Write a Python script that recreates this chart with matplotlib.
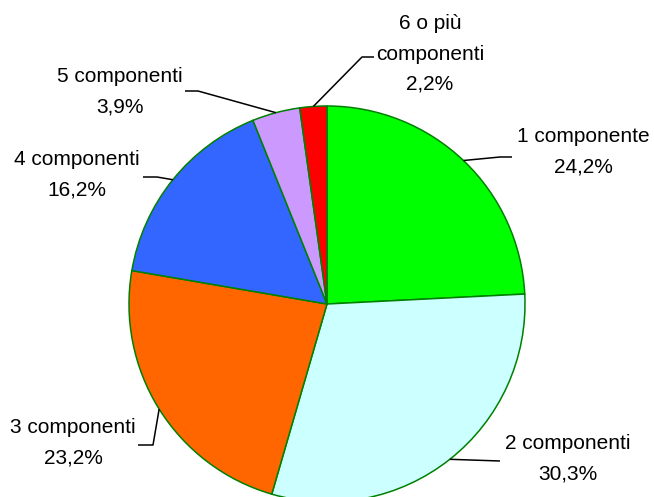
import matplotlib
matplotlib.use("Agg")
import matplotlib.pyplot as plt
import numpy as np

plt.rcParams["font.family"] = ["Liberation Sans", "DejaVu Sans"]

# data
labels = ["1 componente", "2 componenti", "3 componenti",
          "4 componenti", "5 componenti", "6 o più\ncomponenti"]
shares = [24.2, 30.3, 23.2, 16.2, 3.9, 2.2]
colors = ["#00FF00", "#CCFFFF", "#FF6600", "#3366FF", "#CC99FF", "#FF0000"]

# layout in pixel coords (from top-left of the 654x497 image)
W, H = 654, 497
CX, CY, R = 327, 304, 198
label_xy = [(583, 152), (568, 459), (73, 443), (77, 175), (120, 92), (430, 54)]
elbows = [[(500, 157), (512, 157)],
          [(500, 461)],
          [(153, 445), (138, 445)],
          [(157, 177), (143, 177)],
          [(198, 91), (185, 91)],
          [(362, 57), (374, 57)]]


def fy(y):
    return H - y


fig = plt.figure(figsize=(W / 100, H / 100), dpi=100)
ax = fig.add_axes([0, 0, 1, 1])

wedges, _ = ax.pie(shares, colors=colors, startangle=90, counterclock=False,
                   center=(CX, fy(CY)), radius=R, frame=True,
                   wedgeprops=dict(edgecolor="#008000", linewidth=1.1))

for w, lab, val, (tx, ty), pts in zip(wedges, labels, shares, label_xy, elbows):
    mid = np.deg2rad((w.theta1 + w.theta2) / 2)
    ax0 = CX + R * np.cos(mid)
    ay0 = fy(CY) + R * np.sin(mid)
    xs = [ax0] + [p[0] for p in pts]
    ys = [ay0] + [fy(p[1]) for p in pts]
    ax.plot(xs, ys, color="black", lw=1.1, solid_capstyle="butt")
    txt = f"{lab}\n{val:.1f}%".replace(".", ",")
    ax.text(tx, fy(ty), txt, ha="center", va="center", multialignment="center",
            fontsize=15, linespacing=1.75, color="black")

ax.set_xlim(0, W)
ax.set_ylim(0, H)
ax.set_aspect("equal")
ax.set_axis_off()

fig.savefig("out.png", dpi=100)
